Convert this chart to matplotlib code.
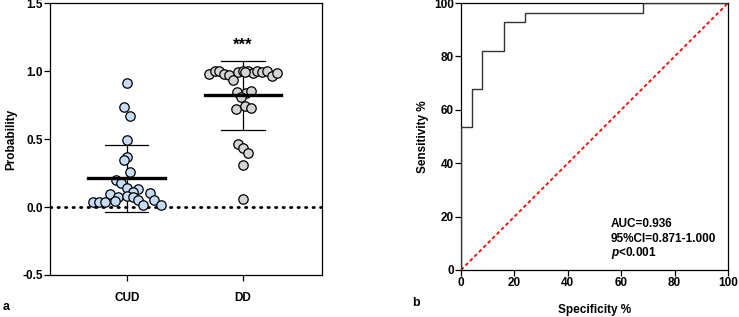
import numpy as np
import matplotlib.pyplot as plt

plt.rcParams['font.family'] = ['Liberation Sans', 'DejaVu Sans']
plt.rcParams['font.weight'] = 'bold'
plt.rcParams['mathtext.fontset'] = 'custom'
plt.rcParams['mathtext.it'] = 'Liberation Sans:italic:bold'

# panel a: predicted probability per group
groups = ['CUD', 'DD']
cud_prob = [0.914, 0.737, 0.668, 0.496, 0.371, 0.344, 0.260, 0.199, 0.174, 0.138,
            0.130, 0.093, 0.100, 0.113, 0.076, 0.080, 0.071, 0.037, 0.037, 0.037,
            0.044, 0.049, 0.049, 0.015, 0.015]
cud_jitter = [0.0, -0.02, 0.029, 0.003, 0.003, -0.023, 0.029, -0.091, -0.049, 0.0,
              0.094, -0.143, 0.197, 0.051, -0.071, 0.0, 0.057, -0.294, -0.24, -0.191,
              -0.1, 0.097, 0.237, 0.143, 0.291]
dd_prob = [0.98, 1.0, 1.0, 0.98, 0.97, 0.937, 0.99, 1.0, 1.0, 0.988,
           1.0, 0.995, 1.0, 0.96, 0.985, 0.99,
           0.848, 0.84, 0.85, 0.81, 0.717, 0.74, 0.73,
           0.46, 0.435, 0.40, 0.31, 0.061]
dd_jitter = [-0.291, -0.243, -0.209, -0.166, -0.12, -0.083, -0.04, -0.003, 0.043, 0.083,
             0.123, 0.166, 0.209, 0.249, 0.291, 0.02,
             -0.054, 0.029, 0.069, -0.02, -0.063, 0.02, 0.069,
             -0.043, 0.0, 0.043, 0.003, 0.003]

# panel b: ROC curve (step points)
roc_x = [0, 0, 4, 4, 8, 8, 16, 16, 24, 24, 68, 68, 100]
roc_y = [0, 53.6, 53.6, 67.9, 67.9, 82.1, 82.1, 92.9, 92.9, 96.4, 96.4, 100, 100]

fig = plt.figure(figsize=(7.39, 3.17), dpi=100)
ax1 = fig.add_axes([0.0677, 0.1325, 0.368, 0.858])
ax2 = fig.add_axes([0.6238, 0.1483, 0.3613, 0.842])

fs = 8.5
colors = ['#c6dcf4', '#d4d4d4']
for i, (vals, jit) in enumerate([(cud_prob, cud_jitter), (dd_prob, dd_jitter)]):
    vals = np.array(vals)
    ax1.scatter(i + np.array(jit), vals, s=46, facecolor=colors[i],
                edgecolor='black', linewidth=0.9, zorder=3)
    m = vals.mean()
    sd = vals.std(ddof=1)
    ax1.plot([i - 0.33, i + 0.33], [m, m], color='black', lw=2.4, zorder=4)
    ax1.plot([i, i], [m - sd, m + sd], color='black', lw=0.9, zorder=2)
    for yy in (m - sd, m + sd):
        ax1.plot([i - 0.186, i + 0.186], [yy, yy], color='black', lw=0.9, zorder=2)

ax1.axhline(0, color='black', lw=2, linestyle=(0, (0.5, 2.2)), dash_capstyle='round', zorder=1)
ax1.text(1, 1.19, '***', ha='center', va='center', fontsize=12)
ax1.set_xlim(-0.66, 1.68)
ax1.set_ylim(-0.5, 1.5)
ax1.set_xticks([0, 1])
ax1.set_xticklabels(groups)
ax1.set_yticks([-0.5, 0, 0.5, 1.0, 1.5])
ax1.set_yticklabels(['-0.5', '0.0', '0.5', '1.0', '1.5'])
ax1.set_ylabel('Probability', fontsize=fs, fontweight='bold', labelpad=4)
ax1.tick_params(axis='y', labelsize=fs, length=4, width=0.9, pad=1)
ax1.tick_params(axis='x', labelsize=fs, length=4, width=0.9, pad=8)

ax2.plot(roc_x, roc_y, color='#333333', lw=1.0, zorder=3)
ax2.plot([0, 100], [0, 100], color='red', lw=1.3, linestyle=(0, (2, 1.5)), zorder=2)
ax2.set_xlim(0, 100)
ax2.set_ylim(0, 100)
ax2.set_xticks(np.arange(0, 101, 20))
ax2.set_yticks(np.arange(0, 101, 20))
ax2.set_xlabel('Specificity %', fontsize=fs, fontweight='bold', labelpad=11)
ax2.set_ylabel('Sensitivity %', fontsize=fs, fontweight='bold', labelpad=4)
ax2.tick_params(labelsize=fs, length=4, width=0.9, pad=1)
ax2.text(56, 17.2, 'AUC=0.936', fontsize=fs, va='center')
ax2.text(56, 11.6, '95%CI=0.871-1.000', fontsize=fs, va='center')
ax2.text(56, 6.4, r'$p$<0.001', fontsize=fs, va='center')

for ax in (ax1, ax2):
    for sp in ax.spines.values():
        sp.set_linewidth(0.9)

fig.text(3 / 739, 1 - 307 / 317, 'a', fontsize=9, va='center')
fig.text(412 / 739, 1 - 303 / 317, 'b', fontsize=9, va='center')

fig.savefig('out.png', dpi=100)
